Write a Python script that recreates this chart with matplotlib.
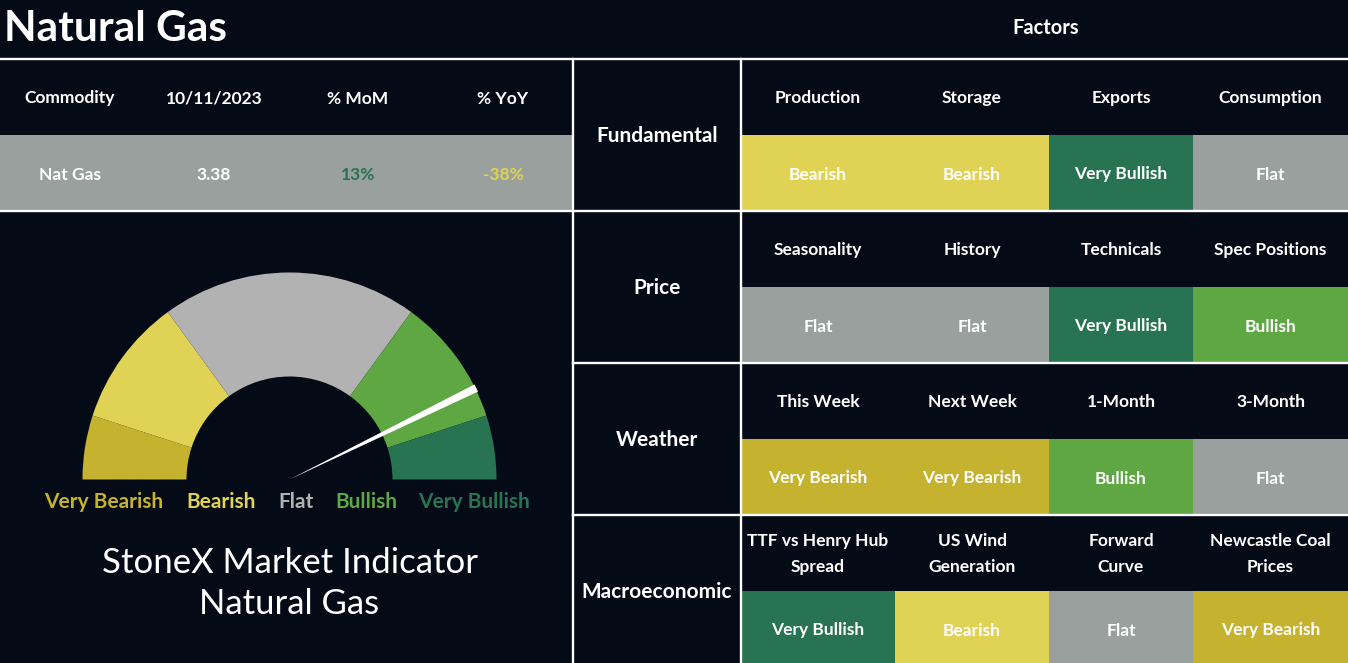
import numpy as np
import matplotlib
matplotlib.use("Agg")
import matplotlib.pyplot as plt
from matplotlib.patches import Rectangle, Wedge

plt.rcParams['font.family'] = ['Lato', 'DejaVu Sans']

# --- data ---
title = "Natural Gas"
commodity_headers = ["Commodity", "10/11/2023", "% MoM", "% YoY"]
commodity_values = ["Nat Gas", "3.38", "13%", "-38%"]

groups = ["Fundamental", "Price", "Weather", "Macroeconomic"]
factors = [
    ["Production", "Storage", "Exports", "Consumption"],
    ["Seasonality", "History", "Technicals", "Spec Positions"],
    ["This Week", "Next Week", "1-Month", "3-Month"],
    ["TTF vs Henry Hub\nSpread", "US Wind\nGeneration", "Forward\nCurve", "Newcastle Coal\nPrices"],
]
ratings = [
    ["Bearish", "Bearish", "Very Bullish", "Flat"],
    ["Flat", "Flat", "Very Bullish", "Bullish"],
    ["Very Bearish", "Very Bearish", "Bullish", "Flat"],
    ["Very Bullish", "Bearish", "Flat", "Very Bearish"],
]

gauge_labels = ["Very Bearish", "Bearish", "Flat", "Bullish", "Very Bullish"]
gauge_steps = [0, 1, 3, 7, 9, 10]
gauge_value = 8.55

# --- style ---
BG = "#050b16"
cell_colors = {"Very Bearish": "#c5b22f", "Bearish": "#e0d255", "Flat": "#99a09e",
               "Bullish": "#5ea743", "Very Bullish": "#287352"}
gauge_colors = ["#c5b22f", "#e0d255", "#b2b2b2", "#5ea743", "#287352"]
label_colors = ["#c5b22f", "#e0d255", "#b2b2b2", "#5ea743", "#287352"]
value_colors = ["white", "white", "#287352", "#e0d255"]

W, H = 1348, 663
fig = plt.figure(figsize=(W / 100, H / 100), dpi=100, facecolor=BG)
ax = fig.add_axes([0, 0, 1, 1])
ax.set_xlim(0, W)
ax.set_ylim(H, 0)
ax.axis("off")
ax.set_facecolor(BG)

# titles
ax.text(4, 29, title, color="white", fontsize=30.5, fontweight="bold", ha="left", va="center")
ax.text(1046, 28.5, "Factors", color="white", fontsize=14.5, fontweight="bold", ha="center", va="center")

# left table
x_centers = [70, 214, 358, 503]
ax.add_patch(Rectangle((0, 135), 573, 76, color="#99a09e", lw=0))
for xc, hd, v, c in zip(x_centers, commodity_headers, commodity_values, value_colors):
    ax.text(xc, 98.5, hd, color="white", fontsize=12.5, fontweight="bold", ha="center", va="center")
    ax.text(xc, 174.5, v, color=c, fontsize=12.5, fontweight="bold", ha="center", va="center")

# right table
col_edges = [741, 895, 1049, 1193, 1348]
row_top = 59
row_h = 152
for i, g in enumerate(groups):
    top = row_top + i * row_h
    ax.text(657, top + 77.5, g, color="white", fontsize=15, fontweight="bold", ha="center", va="center")
    for j in range(4):
        x0, x1 = col_edges[j], col_edges[j + 1]
        ax.add_patch(Rectangle((x0, top + 76), x1 - x0, 76, color=cell_colors[ratings[i][j]], lw=0))
        ax.text((x0 + x1) / 2, top + 39, factors[i][j], color="white", fontsize=12.5,
                fontweight="bold", ha="center", va="center", linespacing=1.7)
        ax.text((x0 + x1) / 2, top + 115.5, ratings[i][j], color="white", fontsize=12.5,
                fontweight="bold", ha="center", va="center")

# grid lines
lw = 1.7
ax.plot([0, W], [59, 59], color="white", lw=lw)
ax.plot([0, W], [211, 211], color="white", lw=lw)
for k in (2, 3):
    y = row_top + k * row_h
    ax.plot([573, W], [y, y], color="white", lw=lw)
ax.plot([573, 573], [59, H], color="white", lw=lw)
ax.plot([741, 741], [59, H], color="white", lw=lw)

# gauge
cx, cy = 289.5, 479.5
R_out, R_in = 207, 103
gax = fig.add_axes([(cx - 230) / W, (H - cy - 20) / H, 460 / W, 250 / H])
gax.set_xlim(-230, 230)
gax.set_ylim(-20, 230)
gax.axis("off")
gax.patch.set_alpha(0)


def to_angle(v):
    return 180 - v / gauge_steps[-1] * 180


for k in range(5):
    a1 = to_angle(gauge_steps[k + 1])
    a2 = to_angle(gauge_steps[k])
    gax.add_patch(Wedge((0, 0), R_out, a1, a2, width=R_out - R_in, color=gauge_colors[k], lw=0))

na = to_angle(gauge_value)
gax.add_patch(Wedge((0, 0), R_out + 1, na - 1.1, na + 1.1, color="white", lw=0))

label_x = [104, 221, 296, 366, 474]
for xl, t, c in zip(label_x, gauge_labels, label_colors):
    ax.text(xl, 502.5, t, color=c, fontsize=15, fontweight="bold", ha="center", va="center")

ax.text(289.5, 563, "StoneX Market Indicator", color="white", fontsize=25, fontweight="normal",
        ha="center", va="center")
ax.text(289.5, 604, "Natural Gas", color="white", fontsize=25, fontweight="normal",
        ha="center", va="center")

fig.savefig("out.png", dpi=100, facecolor=BG)
